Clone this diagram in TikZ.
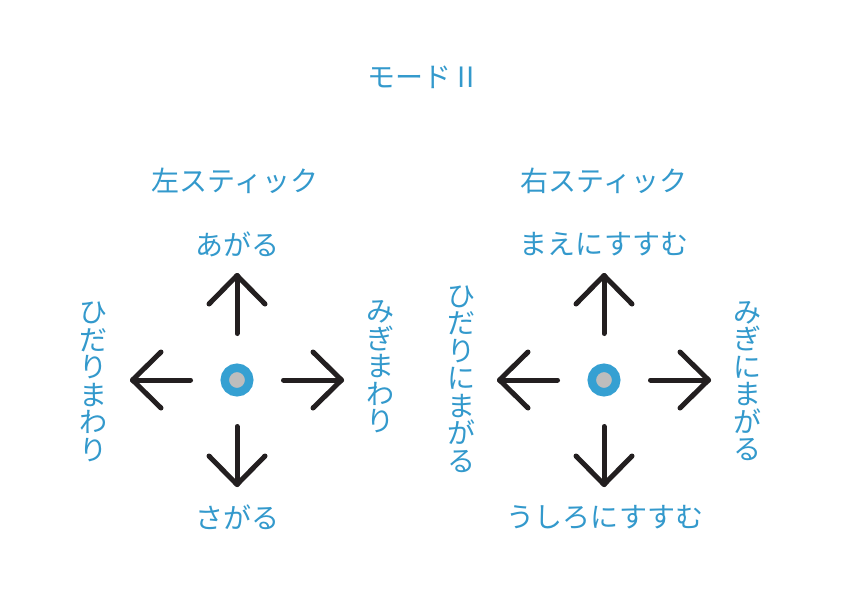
\documentclass[tikz,border=0pt]{standalone}
\usepackage{fontspec}
\setmainfont{Noto Sans CJK JP}
\usepackage{tikz}
\usetikzlibrary{positioning}
\definecolor{label}{HTML}{3399CC}
\definecolor{ring}{HTML}{35A0D2}
\definecolor{knob}{HTML}{BDBDBD}
\definecolor{ink}{HTML}{231F20}
\begin{document}
\begin{tikzpicture}[
  x=1pt,y=-1pt,
  txt/.style={text=label,font=\fontsize{28pt}{27.5pt}\selectfont,inner sep=0pt,align=center},
  vtxt/.style={txt,text width=30pt},
  dir/.style={draw=ink,line width=5pt,line cap=round,line join=round},
  stick/.style={circle,draw=ring,fill=knob,line width=8.5pt,minimum size=24.5pt,inner sep=0pt}
]
\useasboundingbox (0,0) rectangle (842,595);
% stick centres
\node[stick] (left) at (237,380) {};
\node[stick] (right) at (604,380) {};
% four arrows round each stick
\foreach \c in {left,right}{
  \foreach \a in {0,90,180,270}{
    \begin{scope}[shift={(\c)},rotate=\a]
      \draw[dir] (46.5,0) -- (104.5,0);
      \draw[dir] (76,28) -- (104.5,0) -- (76,-28);
    \end{scope}
  }
}
% labels
\node[txt] (title) at (421,77) {モード II};
\node[txt] (lname) at (235,181) {左スティック};
\node[txt] (rname) at (604,181) {右スティック};
\node[txt] (lup) at (237,244) {あがる};
\node[txt] (ldown) at (237,517) {さがる};
\node[txt] (rup) at (604,244) {まえにすすむ};
\node[txt] (rdown) at (605,517) {うしろにすすむ};
\node[vtxt] (lleft) at (93,382) {ひ\\だ\\り\\ま\\わ\\り};
\node[vtxt] (lright) at (380,367) {み\\ぎ\\ま\\わ\\り};
\node[vtxt] (rleft) at (461,379) {ひ\\だ\\り\\に\\ま\\が\\る};
\node[vtxt] (rright) at (747,381) {み\\ぎ\\に\\ま\\が\\る};
\end{tikzpicture}
\end{document}
